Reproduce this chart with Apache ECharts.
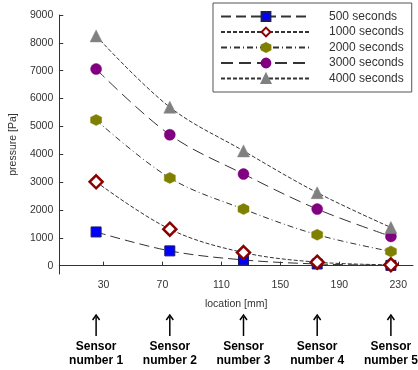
<!DOCTYPE html>
<html>
<head>
<meta charset="utf-8">
<script src="https://cdn.jsdelivr.net/npm/echarts@6/dist/echarts.min.js"></script>
<style>
  html, body { margin: 0; padding: 0; background: #fff; }
  #chart { width: 418px; height: 370px; }
</style>
</head>
<body>
<div id="chart"></div>
<script>
// Sensor positions along the pipe [mm]
const locations = [25, 75, 125, 175, 225];
const sensorNames = ['1', '2', '3', '4', '5'];

// Pressure [Pa] measured at each sensor after a given time
const p500 = [1210, 530, 205, 60, 10];
const p1000 = [3010, 1310, 470, 125, 30];
const p2000 = [5230, 3150, 2030, 1110, 510];
const p3000 = [7060, 4700, 3290, 2030, 1050];
const p4000 = [8250, 5690, 4120, 2620, 1370];

const seriesNames = ['500 seconds', '1000 seconds', '2000 seconds', '3000 seconds', '4000 seconds'];

// Axis tick values
const xTicks = [30, 70, 110, 150, 190, 230];
const yTicks = [0, 1000, 2000, 3000, 4000, 5000, 6000, 7000, 8000, 9000];

const hexagon = 'path://M0,-1L0.866,-0.5L0.866,0.5L0,1L-0.866,0.5L-0.866,-0.5Z';

function pairs(values) {
  return locations.map((x, i) => [x, values[i]]);
}

function makeSeries(name, values, dash, symbol, size, itemStyle) {
  return {
    name: name,
    type: 'line',
    data: pairs(values),
    smooth: 0.35,
    symbol: symbol,
    symbolSize: size,
    showAllSymbol: true,
    lineStyle: { color: '#333', width: 1, type: dash },
    itemStyle: itemStyle,
    emphasis: { disabled: true },
    z: 3
  };
}

const chart = echarts.init(document.getElementById('chart'), null, { renderer: 'canvas' });

const axisFont = { fontFamily: 'Liberation Sans, Arial, sans-serif', fontSize: 10.5, color: '#333' };
const plainNumber = v => String(v);

chart.setOption({
  animation: false,
  backgroundColor: '#fff',
  grid: { left: 53, right: 5, top: 15, bottom: 96, containLabel: false },
  legend: {
    orient: 'vertical',
    left: 213,
    top: 3,
    padding: [7.5, 8, 7.5, 7],
    itemWidth: 90,
    itemHeight: 11,
    itemGap: 3.5,
    borderColor: '#555',
    borderWidth: 1,
    backgroundColor: '#fff',
    textStyle: {
      fontFamily: 'Liberation Sans, Arial, sans-serif',
      fontSize: 12,
      color: '#333',
      padding: [0, 0, 0, 13]
    },
    data: seriesNames
  },
  xAxis: {
    type: 'value',
    min: 0,
    max: 240,
    name: 'location [mm]',
    nameLocation: 'middle',
    nameGap: 25,
    nameTextStyle: axisFont,
    axisLine: { lineStyle: { color: '#333', width: 1 } },
    axisTick: { inside: true, length: 4, lineStyle: { color: '#333' }, customValues: xTicks },
    axisLabel: Object.assign({ margin: 6, customValues: xTicks, formatter: plainNumber }, axisFont),
    splitLine: { show: false }
  },
  yAxis: {
    type: 'value',
    min: -300,
    max: 9000,
    name: 'pressure [Pa]',
    nameLocation: 'middle',
    nameGap: 29,
    nameTextStyle: axisFont,
    axisLine: { show: true, lineStyle: { color: '#333', width: 1 } },
    axisTick: { show: true, inside: true, length: 4, lineStyle: { color: '#333' }, customValues: yTicks },
    axisLabel: Object.assign({ margin: 6, customValues: yTicks, formatter: plainNumber }, axisFont),
    splitLine: { show: false }
  },
  series: [
    makeSeries(seriesNames[0], p500, [10, 5], 'rect', 10,
      { color: '#0000ff', borderColor: '#1a1a66', borderWidth: 1 }),
    makeSeries(seriesNames[1], p1000, [4, 2], 'diamond', 13,
      { color: '#ffffff', borderColor: '#8b0000', borderWidth: 2.5 }),
    makeSeries(seriesNames[2], p2000, [6, 3, 1, 3], hexagon, 11,
      { color: '#808000', borderColor: '#808000', borderWidth: 0.5 }),
    makeSeries(seriesNames[3], p3000, [12, 6], 'circle', 11,
      { color: '#800080', borderColor: '#800080', borderWidth: 0.5 }),
    makeSeries(seriesNames[4], p4000, [4, 2], 'triangle', 12,
      { color: '#808080', borderColor: '#808080', borderWidth: 0.5 })
  ]
});

// Sensor markers below the axis, placed at each sensor's location
const graphics = [];
locations.forEach((loc, i) => {
  const x = chart.convertToPixel({ xAxisIndex: 0 }, loc);
  graphics.push({
    type: 'line',
    shape: { x1: x, y1: 317, x2: x, y2: 336 },
    style: { stroke: '#000', lineWidth: 1.5 }
  });
  graphics.push({
    type: 'polyline',
    shape: { points: [[x - 3.5, 320], [x, 315], [x + 3.5, 320]] },
    style: { stroke: '#000', lineWidth: 1.5, fill: null }
  });
  graphics.push({
    type: 'text',
    x: x,
    y: 354,
    style: {
      text: 'Sensor\nnumber ' + sensorNames[i],
      fontFamily: 'Liberation Sans, Arial, sans-serif',
      fontWeight: 'bold',
      fontSize: 12,
      lineHeight: 14,
      fill: '#000',
      align: 'center',
      verticalAlign: 'middle'
    }
  });
});
chart.setOption({ graphic: graphics });
</script>
</body>
</html>
